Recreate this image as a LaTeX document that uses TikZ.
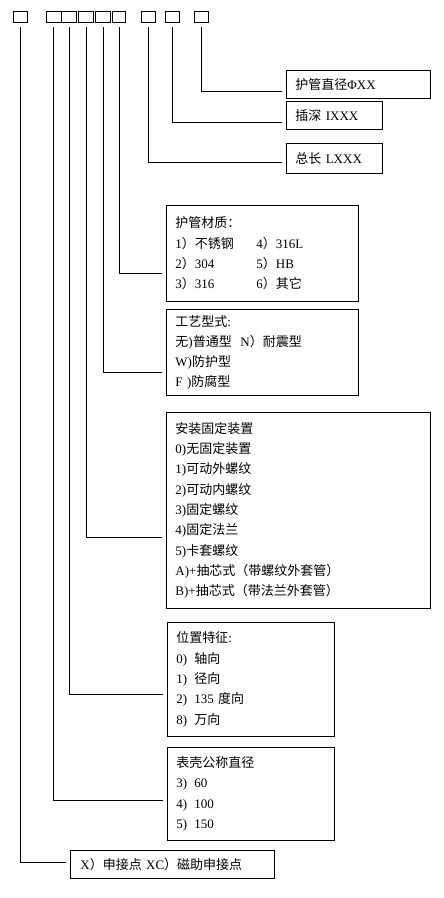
\documentclass[tikz,border=0pt]{standalone}
\usepackage{fontspec}
\setmainfont{Liberation Serif}
\newfontfamily\zhfont{Noto Sans CJK SC}
\newcommand{\zh}[1]{{\zhfont #1}}
\usetikzlibrary{positioning}

\begin{document}
\begin{tikzpicture}[x=1pt, y=-1pt, line width=0.9pt,
    cell/.style={draw, minimum width=14, minimum height=11, inner sep=0},
    descbox/.style={draw, anchor=north west, align=left,
        inner xsep=9, inner ysep=0,
        font=\fontsize{13}{20.3}\selectfont},
    lead/.style={shorten <=5, shorten >=4}]
    \useasboundingbox (0,0) rectangle (444,898);

    % code cells
    \node [cell] (contact code) at (20,16.5) {};
    \node [cell, minimum width=15] (case code) at (53.5,16.5) {};
    \node [cell, minimum width=15, right=0 of case code] (position code) {};
    \node [cell, minimum width=15, right=1 of position code] (mounting code) {};
    \node [cell, minimum width=15, right=1 of mounting code] (process code) {};
    \node [cell, minimum width=13, right=1 of process code] (material code) {};
    \node [cell] (length code) at (148,16.5) {};
    \node [cell] (insertion code) at (172.5,16.5) {};
    \node [cell] (diameter code) at (201.5,16.5) {};

    % descriptions
    \node [descbox, text width=126, minimum height=28] (diameter)
        at (286,70) {\zh{护管直径}ΦXX};
    \node [descbox, text width=78, minimum height=28] (insertion)
        at (286,101) {\zh{插深} IXXX};
    \node [descbox, text width=78, minimum height=30] (length)
        at (286,143) {\zh{总长} LXXX};

    \node [descbox, text width=174, minimum height=96] (material)
        at (166,205) {
        \zh{护管材质：}\\
        \makebox[81pt][l]{1\zh{）不锈钢}}4\zh{）}316L\\
        \makebox[81pt][l]{2\zh{）}304}5\zh{）}HB\\
        \makebox[81pt][l]{3\zh{）}316}6\zh{）其它}
    };

    \node [descbox, text width=174, minimum height=86] (process)
        at (166,309) {
        \zh{工艺型式}:\\
        \makebox[65pt][l]{\zh{无})\zh{普通型}}N\zh{）耐震型}\\
        W)\zh{防护型}\\
        F )\zh{防腐型}
    };

    \node [descbox, text width=246, minimum height=196] (mounting)
        at (166,412) {
        \zh{安装固定装置}\\
        0)\zh{无固定装置}\\
        1)\zh{可动外螺纹}\\
        2)\zh{可动内螺纹}\\
        3)\zh{固定螺纹}\\
        4)\zh{固定法兰}\\
        5)\zh{卡套螺纹}\\
        A)+\zh{抽芯式（带螺纹外套管）}\\
        B)+\zh{抽芯式（带法兰外套管）}
    };

    \node [descbox, text width=149, minimum height=114] (position)
        at (167,622) {
        \zh{位置特征}:\\
        0)\hspace{7pt}\zh{轴向}\\
        1)\hspace{7pt}\zh{径向}\\
        2)\hspace{7pt}135 \zh{度向}\\
        8)\hspace{7pt}\zh{万向}
    };

    \node [descbox, text width=149, minimum height=93] (case)
        at (167,747) {
        \zh{表壳公称直径}\\
        3)\hspace{7pt}60\\
        4)\hspace{7pt}100\\
        5)\hspace{7pt}150
    };

    \node [descbox, inner xsep=10, text width=184, minimum height=28] (contact)
        at (70,850) {X\zh{）申接点} XC\zh{）磁助申接点}};

    % leads
    \draw [lead] (diameter code.south) |- ([yshift=-7pt]diameter.west);
    \draw [lead] (insertion code.south) |- ([yshift=-7pt]insertion.west);
    \draw [lead] (length code.south) |- ([yshift=-4pt]length.west);
    \draw [lead] (material code.south) |- ([yshift=-20pt]material.west);
    \draw [lead] (process code.south) |- ([yshift=-20pt]process.west);
    \draw [lead] (mounting code.south) |- ([yshift=-27pt]mounting.west);
    \draw [lead] (position code.south) |- ([yshift=-15pt]position.west);
    \draw [lead] (case code.south) |- ([yshift=-6pt]case.west);
    \draw [lead] (contact code.south) |- ([yshift=2pt]contact.west);
\end{tikzpicture}
\end{document}
